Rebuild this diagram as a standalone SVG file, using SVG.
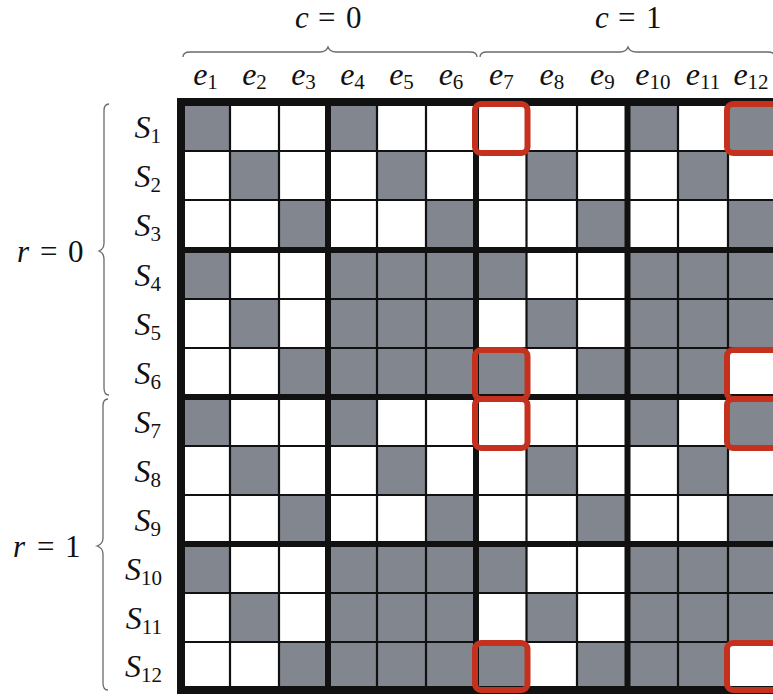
<svg xmlns="http://www.w3.org/2000/svg" width="773" height="700" viewBox="0 0 773 700">
<style>
.lab{font-family:"Liberation Serif","DejaVu Serif",serif;font-size:32px;fill:#111}
.it{font-style:italic}
.sub{font-size:21px}
.hdr{font-family:"Liberation Serif","DejaVu Serif",serif;font-size:31px;fill:#111}
.g{fill:#82878f}
.thin{stroke:#111;stroke-width:2.2;fill:none}
.thick{stroke:#111;stroke-width:6;fill:none}
.hl{fill:none;stroke:#c4311f;stroke-width:6}
.brace{fill:none;stroke:#6a6a6a;stroke-width:1.3}
</style>
<rect width="773" height="700" fill="#fff"/>

<g id="braces">
<path class="brace" d="M183,57 Q183,52 190,52 L320,52 Q326,52 328,47 Q330,52 336,52 L470,52 Q477,52 477,57"/>
<path class="brace" d="M480,57 Q480,52 487,52 L620,52 Q626,52 628,47 Q630,52 636,52 L768,52 Q775,52 775,57"/>
<path class="brace" d="M109,104 Q104,104 104,111 L104,243 Q104,249 99,251 Q104,253 104,259 L104,388 Q104,395 109,395"/>
<path class="brace" d="M108,399 Q103,399 103,406 L103,538 Q103,544 97,546 Q103,548 103,554 L103,683 Q103,690 108,690"/>
</g>

<g id="group-labels">
<text class="hdr" y="28"><tspan class="it" x="295">c</tspan><tspan x="318">=</tspan><tspan x="346">0</tspan></text>
<text class="hdr" y="28"><tspan class="it" x="595">c</tspan><tspan x="618">=</tspan><tspan x="646">1</tspan></text>
<text class="hdr" y="262"><tspan class="it" x="17">r</tspan><tspan x="40">=</tspan><tspan x="68">0</tspan></text>
<text class="hdr" y="557"><tspan class="it" x="13">r</tspan><tspan x="37">=</tspan><tspan x="65">1</tspan></text>
</g>

<g id="column-labels" class="lab" text-anchor="middle">
<text x="205.5" y="85"><tspan class="it">e</tspan><tspan class="sub" dy="4">1</tspan></text>
<text x="254.5" y="85"><tspan class="it">e</tspan><tspan class="sub" dy="4">2</tspan></text>
<text x="303.5" y="85"><tspan class="it">e</tspan><tspan class="sub" dy="4">3</tspan></text>
<text x="352.5" y="85"><tspan class="it">e</tspan><tspan class="sub" dy="4">4</tspan></text>
<text x="401.5" y="85"><tspan class="it">e</tspan><tspan class="sub" dy="4">5</tspan></text>
<text x="451" y="85"><tspan class="it">e</tspan><tspan class="sub" dy="4">6</tspan></text>
<text x="501.3" y="85"><tspan class="it">e</tspan><tspan class="sub" dy="4">7</tspan></text>
<text x="551.8" y="85"><tspan class="it">e</tspan><tspan class="sub" dy="4">8</tspan></text>
<text x="602.3" y="85"><tspan class="it">e</tspan><tspan class="sub" dy="4">9</tspan></text>
<text x="652.8" y="85"><tspan class="it">e</tspan><tspan class="sub" dy="4">10</tspan></text>
<text x="703" y="85"><tspan class="it">e</tspan><tspan class="sub" dy="4">11</tspan></text>
<text x="751" y="85"><tspan class="it">e</tspan><tspan class="sub" dy="4">12</tspan></text>
</g>

<g id="row-labels" class="lab" text-anchor="end">
<text x="161" y="137.5"><tspan class="it">S</tspan><tspan class="sub" dy="5">1</tspan></text>
<text x="161" y="186.5"><tspan class="it">S</tspan><tspan class="sub" dy="5">2</tspan></text>
<text x="161" y="236"><tspan class="it">S</tspan><tspan class="sub" dy="5">3</tspan></text>
<text x="161" y="285.5"><tspan class="it">S</tspan><tspan class="sub" dy="5">4</tspan></text>
<text x="161" y="334.5"><tspan class="it">S</tspan><tspan class="sub" dy="5">5</tspan></text>
<text x="161" y="383.5"><tspan class="it">S</tspan><tspan class="sub" dy="5">6</tspan></text>
<text x="161" y="432.5"><tspan class="it">S</tspan><tspan class="sub" dy="5">7</tspan></text>
<text x="161" y="481.5"><tspan class="it">S</tspan><tspan class="sub" dy="5">8</tspan></text>
<text x="161" y="530.5"><tspan class="it">S</tspan><tspan class="sub" dy="5">9</tspan></text>
<text x="162" y="579.5"><tspan class="it">S</tspan><tspan class="sub" dy="5">10</tspan></text>
<text x="162" y="628.5"><tspan class="it">S</tspan><tspan class="sub" dy="5">11</tspan></text>
<text x="162" y="677"><tspan class="it">S</tspan><tspan class="sub" dy="5">12</tspan></text>
</g>

<g id="grid">
<g id="gray-cells" class="g">
<rect x="181" y="102" width="49" height="49"/><rect x="328" y="102" width="49" height="49"/><rect x="627.5" y="102" width="50.5" height="49"/><rect x="728" y="102" width="50" height="49"/>
<rect x="230" y="151" width="49" height="49"/><rect x="377" y="151" width="49" height="49"/><rect x="526.5" y="151" width="50.5" height="49"/><rect x="678" y="151" width="50" height="49"/>
<rect x="279" y="200" width="49" height="50"/><rect x="426" y="200" width="50" height="50"/><rect x="577" y="200" width="50.5" height="50"/><rect x="728" y="200" width="50" height="50"/>
<rect x="181" y="250" width="49" height="49"/><rect x="328" y="250" width="148" height="49"/><rect x="476" y="250" width="50.5" height="49"/><rect x="627.5" y="250" width="150.5" height="49"/>
<rect x="230" y="299" width="49" height="49"/><rect x="328" y="299" width="148" height="49"/><rect x="526.5" y="299" width="50.5" height="49"/><rect x="627.5" y="299" width="150.5" height="49"/>
<rect x="279" y="348" width="197" height="49"/><rect x="476" y="348" width="50.5" height="49"/><rect x="577" y="348" width="151" height="49"/>
<rect x="181" y="397" width="49" height="49"/><rect x="328" y="397" width="49" height="49"/><rect x="627.5" y="397" width="50.5" height="49"/><rect x="728" y="397" width="50" height="49"/>
<rect x="230" y="446" width="49" height="49"/><rect x="377" y="446" width="49" height="49"/><rect x="526.5" y="446" width="50.5" height="49"/><rect x="678" y="446" width="50" height="49"/>
<rect x="279" y="495" width="49" height="49"/><rect x="426" y="495" width="50" height="49"/><rect x="577" y="495" width="50.5" height="49"/><rect x="728" y="495" width="50" height="49"/>
<rect x="181" y="544" width="49" height="49"/><rect x="328" y="544" width="148" height="49"/><rect x="476" y="544" width="50.5" height="49"/><rect x="627.5" y="544" width="150.5" height="49"/>
<rect x="230" y="593" width="49" height="49"/><rect x="328" y="593" width="148" height="49"/><rect x="526.5" y="593" width="50.5" height="49"/><rect x="627.5" y="593" width="150.5" height="49"/>
<rect x="279" y="642" width="197" height="48"/><rect x="476" y="642" width="50.5" height="48"/><rect x="577" y="642" width="151" height="48"/>
</g>
<g id="lines">
<path class="thin" d="M230,102V690M279,102V690M377,102V690M426,102V690M526.5,102V690M577,102V690M678,102V690M728,102V690"/>
<path class="thin" d="M181,151H778M181,200H778M181,299H778M181,348H778M181,446H778M181,495H778M181,593H778M181,642H778"/>
<path class="thick" d="M328,102V690M476,102V690M627.5,102V690M181,250H778M181,397H778M181,544H778"/>
<rect x="181" y="102" width="597" height="588" fill="none" stroke="#111" stroke-width="8"/>
</g>
</g>

<g id="highlights" class="hl">
<rect x="475" y="104" width="52.5" height="49" rx="6"/>
<rect x="475" y="350" width="52.5" height="49" rx="6"/>
<rect x="475" y="399" width="52.5" height="49" rx="6"/>
<rect x="475" y="643" width="52.5" height="47" rx="6"/>
<rect x="727" y="104" width="52" height="49" rx="6"/>
<rect x="727" y="350" width="52" height="49" rx="6"/>
<rect x="727" y="399" width="52" height="49" rx="6"/>
<rect x="727" y="643" width="52" height="47" rx="6"/>
</g>
</svg>
